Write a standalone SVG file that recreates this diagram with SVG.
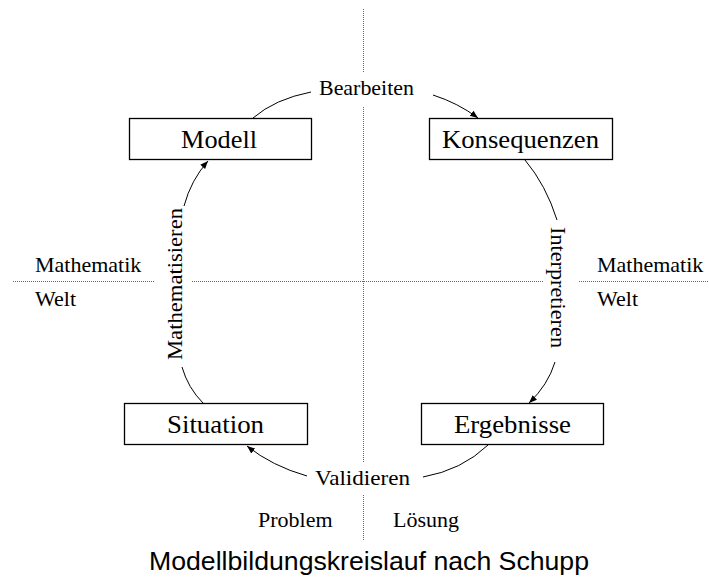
<svg xmlns="http://www.w3.org/2000/svg" width="709" height="580" viewBox="0 0 709 580">
<style>
.box{fill:#fff;stroke:#000;stroke-width:1.3}
.lbl{font-family:"Liberation Serif","Times New Roman",serif;font-size:26px;fill:#000}
.sm{font-family:"Liberation Serif","Times New Roman",serif;font-size:22px;fill:#000}
.title{font-family:"Liberation Sans",Arial,sans-serif;font-size:25px;fill:#000}
.dot{stroke:#666;stroke-width:1;stroke-dasharray:1 1;fill:none}
.arc{stroke:#000;stroke-width:1;fill:none}
</style>
<defs>
<marker id="ah" viewBox="0 0 10 10" refX="10" refY="5" markerWidth="8" markerHeight="8" markerUnits="userSpaceOnUse" orient="auto">
<path d="M0,1 L10,5 L0,9 Z" fill="#000"/>
</marker>
</defs>
<rect width="709" height="580" fill="#fff"/>
<g id="axes">
<line class="dot" x1="363.5" y1="9" x2="363.5" y2="72"/>
<line class="dot" x1="363.5" y1="107" x2="363.5" y2="462"/>
<line class="dot" x1="363.5" y1="495" x2="363.5" y2="540"/>
<line class="dot" x1="13" y1="281.5" x2="155" y2="281.5"/>
<line class="dot" x1="192" y1="281.5" x2="543" y2="281.5"/>
<line class="dot" x1="579" y1="281.5" x2="709" y2="281.5"/>
</g>
<g id="connectors">
<path class="arc" d="M253,118 Q275,99 311,92"/>
<path class="arc" d="M433,95 Q458,103 478,118" marker-end="url(#ah)"/>
<path class="arc" d="M525,160 Q546,185 557,220"/>
<path class="arc" d="M555,362 Q548,385 529,403" marker-end="url(#ah)"/>
<path class="arc" d="M488,445 Q462,470 423,477"/>
<path class="arc" d="M307,476 Q272,466 247,446" marker-end="url(#ah)"/>
<path class="arc" d="M182,367 Q188,388 203,403"/>
<path class="arc" d="M184,206 Q191,180 208,161" marker-end="url(#ah)"/>
</g>
<g id="node-modell">
<rect class="box" x="129.5" y="118.5" width="182" height="41"/>
<text class="lbl" x="219" y="148" text-anchor="middle" textLength="76" lengthAdjust="spacingAndGlyphs">Modell</text>
</g>
<g id="node-konsequenzen">
<rect class="box" x="429.5" y="118.5" width="183" height="41"/>
<text class="lbl" x="520.5" y="148" text-anchor="middle" textLength="157" lengthAdjust="spacingAndGlyphs">Konsequenzen</text>
</g>
<g id="node-situation">
<rect class="box" x="124.5" y="403.5" width="183" height="41"/>
<text class="lbl" x="215.5" y="433" text-anchor="middle" textLength="97" lengthAdjust="spacingAndGlyphs">Situation</text>
</g>
<g id="node-ergebnisse">
<rect class="box" x="421.5" y="403.5" width="182" height="41"/>
<text class="lbl" x="512.5" y="433" text-anchor="middle" textLength="117" lengthAdjust="spacingAndGlyphs">Ergebnisse</text>
</g>
<g id="labels">
<text class="sm" x="319" y="95" textLength="95" lengthAdjust="spacingAndGlyphs">Bearbeiten</text>
<text class="sm" x="315" y="485" textLength="95" lengthAdjust="spacingAndGlyphs">Validieren</text>
<text class="sm" transform="translate(182,284) rotate(-90)" text-anchor="middle" textLength="152" lengthAdjust="spacingAndGlyphs">Mathematisieren</text>
<text class="sm" transform="translate(551,287.5) rotate(90)" text-anchor="middle" textLength="121" lengthAdjust="spacingAndGlyphs">Interpretieren</text>
<text class="sm" x="35" y="272">Mathematik</text>
<text class="sm" x="35" y="306">Welt</text>
<text class="sm" x="597" y="272">Mathematik</text>
<text class="sm" x="597" y="306">Welt</text>
<text class="sm" x="258" y="527">Problem</text>
<text class="sm" x="393" y="527">Lösung</text>
</g>
<text class="title" x="149" y="570" textLength="440" lengthAdjust="spacingAndGlyphs">Modellbildungskreislauf nach Schupp</text>
</svg>
